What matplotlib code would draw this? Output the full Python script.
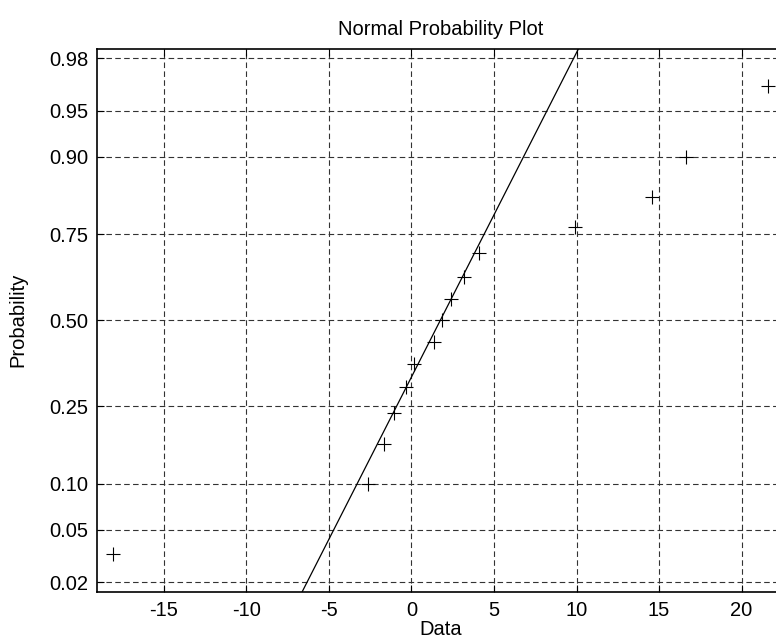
import numpy as np
import matplotlib
matplotlib.use("Agg")
import matplotlib.pyplot as plt
from statistics import NormalDist

# Data (sorted sample values)
data = [-18.06, -2.61, -1.64, -1.05, -0.35, 0.16, 1.37, 1.86, 2.42, 3.19,
        4.12, 9.92, 14.6, 16.62, 21.61]
# Reference line (normal fit)
line_mu = 1.75
line_sigma = 3.93
prob_ticks = [0.02, 0.05, 0.10, 0.25, 0.50, 0.75, 0.90, 0.95, 0.98]
prob_labels = ["0.02", "0.05", "0.10", "0.25", "0.50", "0.75", "0.90", "0.95", "0.98"]
x_ticks = [-15, -10, -5, 0, 5, 10, 15, 20]

nd = NormalDist()
n = len(data)
x = np.sort(np.array(data))
probs = (np.arange(1, n + 1) - 0.5) / n
z = np.array([nd.inv_cdf(p) for p in probs])

plt.rcParams['font.family'] = ['Liberation Sans', 'DejaVu Sans']
plt.rcParams['axes.unicode_minus'] = False

fig = plt.figure(figsize=(7.76, 6.44), dpi=100)
ax = fig.add_axes([0.125, 0.0815, 0.886, 0.8425])

zlim = nd.inv_cdf(1 - 0.25 / n)
ax.set_ylim(-zlim, zlim)
rng = x.max() - x.min()
ax.set_xlim(x.min() - 0.025 * rng, x.max() + 0.025 * rng)

# grid
for pt in prob_ticks:
    ax.axhline(nd.inv_cdf(pt), color='0.2', lw=0.8, linestyle=(0, (5, 3)), zorder=1)
for xt in x_ticks:
    ax.axvline(xt, color='0.2', lw=0.8, linestyle=(0, (5, 3)), zorder=1)

# reference line
zz = np.linspace(-zlim, zlim, 50)
ax.plot(line_mu + line_sigma * zz, zz, color='black', lw=0.9, zorder=2)

# points
ax.plot(x, z, linestyle='none', marker='+', markersize=10.5, markeredgewidth=0.8,
        color='black', zorder=3)

ax.set_yticks([nd.inv_cdf(p) for p in prob_ticks])
ax.set_yticklabels(prob_labels)
ax.set_xticks(x_ticks)
ax.tick_params(direction='in', length=5, width=0.8, labelsize=14.5, top=True, right=False)
ax.tick_params(axis='x', pad=7)
ax.tick_params(axis='y', pad=6)
for s in ax.spines.values():
    s.set_linewidth(1.2)

ax.set_title("Normal Probability Plot", fontsize=14.5, pad=10)
ax.set_xlabel("Data", fontsize=14.5, labelpad=0)
ax.set_ylabel("Probability", fontsize=14.5, labelpad=16)

fig.savefig("out.png", dpi=100)
